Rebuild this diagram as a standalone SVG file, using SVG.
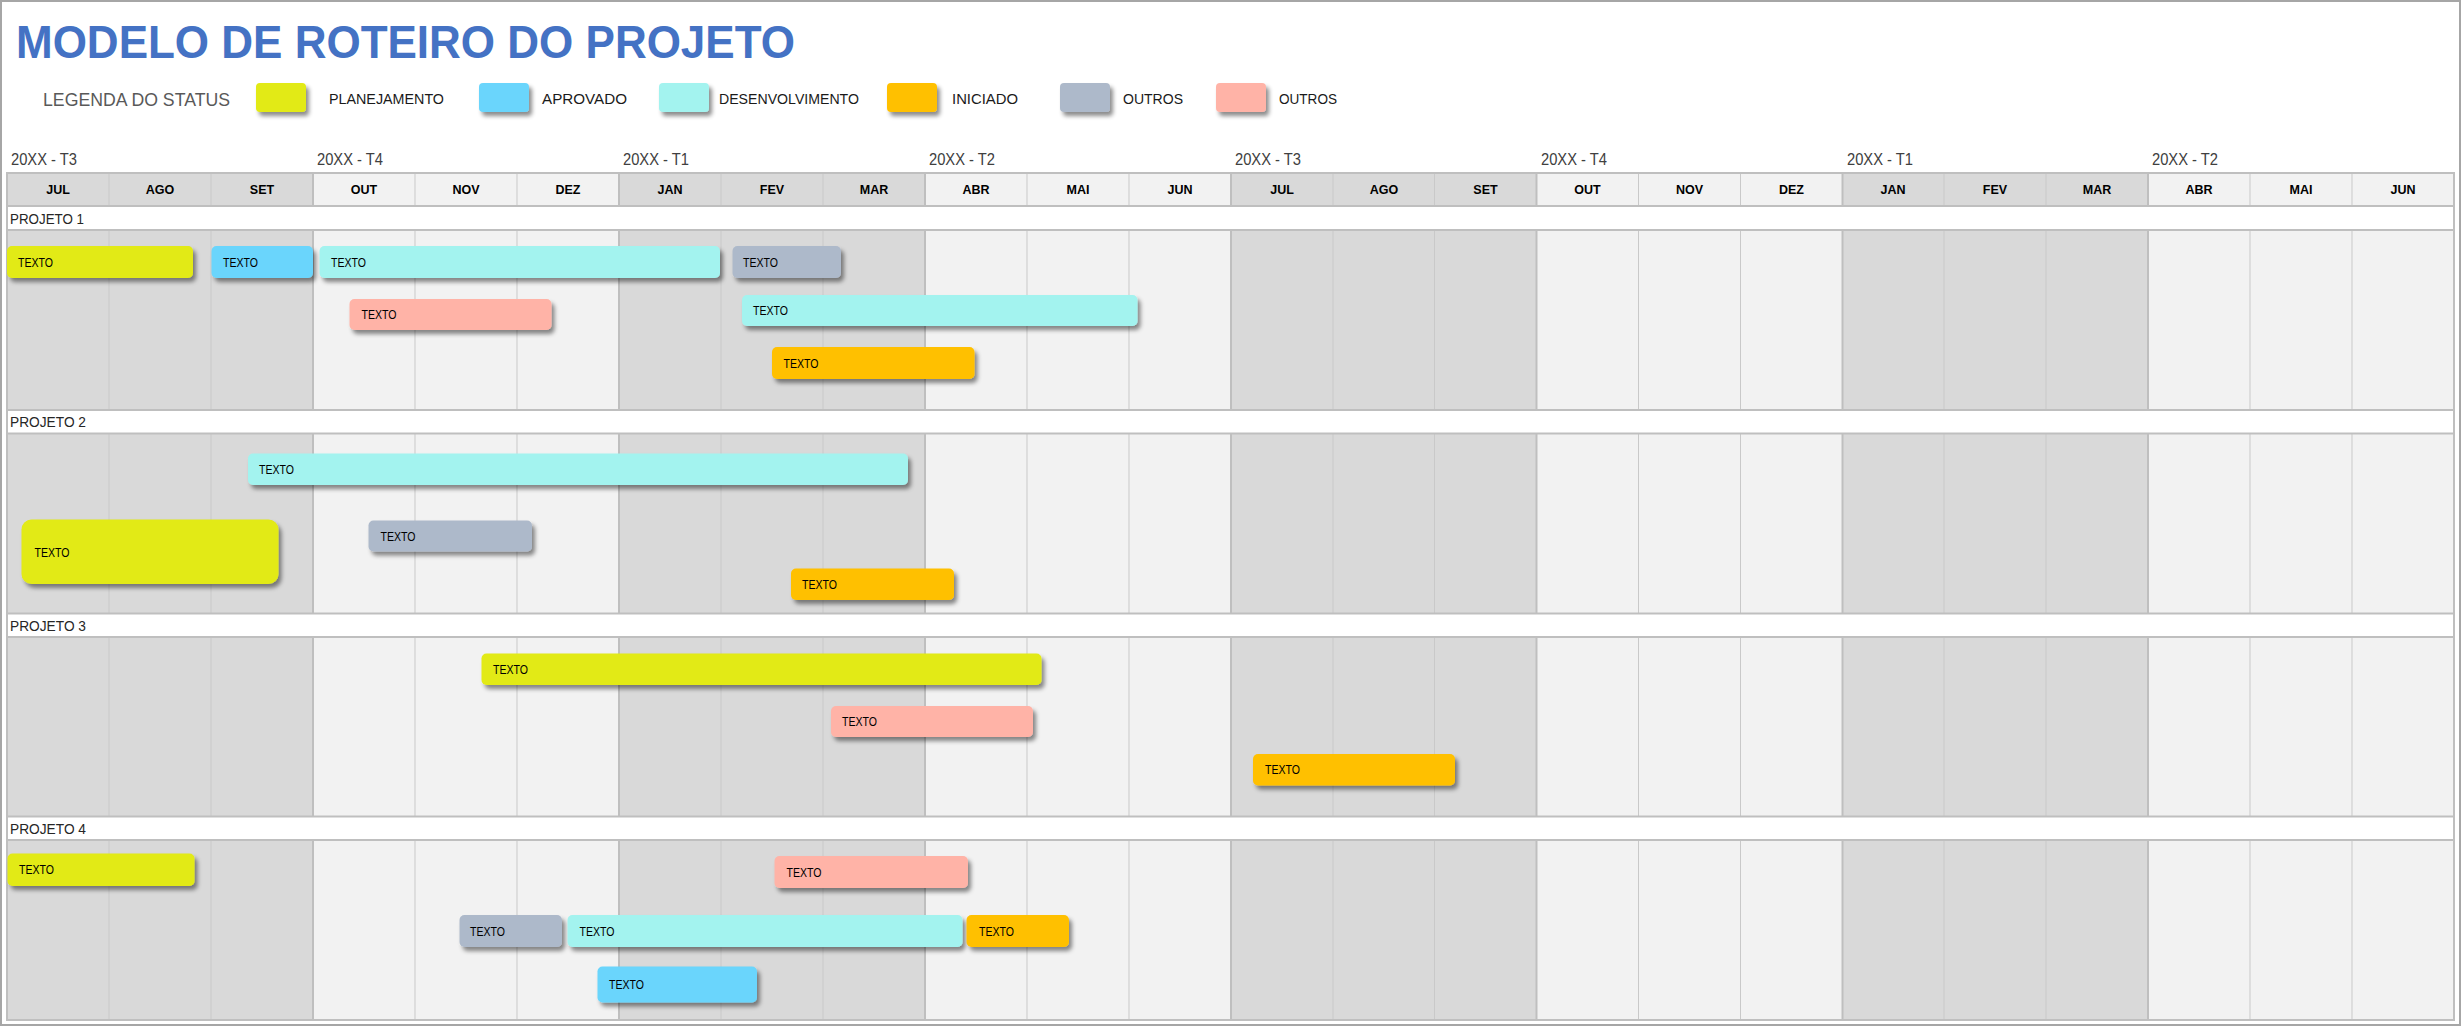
<svg xmlns="http://www.w3.org/2000/svg" width="2462" height="1027" viewBox="0 0 2462 1027">
<style>
.ttl{font-family:"Liberation Sans",Arial,sans-serif;font-weight:bold;font-size:47px;fill:#4472C4}
.leg{font-family:"Liberation Sans",Arial,sans-serif;font-size:18px;fill:#595959}
.lgt{font-family:"Liberation Sans",Arial,sans-serif;font-size:14px;fill:#1a1a1a}
.qtr{font-family:"Liberation Sans",Arial,sans-serif;font-size:17px;fill:#404040}
.mon{font-family:"Liberation Sans",Arial,sans-serif;font-size:12.5px;font-weight:bold;fill:#000;text-anchor:middle}
.prj{font-family:"Liberation Sans",Arial,sans-serif;font-size:15.5px;fill:#262626}
.bt{font-family:"Liberation Sans",Arial,sans-serif;font-size:13px;fill:#000}
.dk{fill:#D9D9D9}.lt{fill:#F2F2F2}
.thin{stroke:#C9C9C9;stroke-width:1;fill:none}
.qline{stroke:#BFBFBF;stroke-width:2;fill:none}
.hline{stroke:#BFBFBF;stroke-width:2;fill:none}
.y{fill:#E2EA13}.b{fill:#6AD5FC}.c{fill:#A3F3EF}.o{fill:#FFC000}.g{fill:#ADB9CA}.p{fill:#FFB3A7}
.bar{filter:url(#sh)}
</style>
<defs>
<filter id="sh" x="-10%" y="-30%" width="125%" height="180%">
<feDropShadow dx="3" dy="4" stdDeviation="2" flood-color="#000" flood-opacity="0.45"/>
</filter>
</defs>
<rect x="1" y="1" width="2459" height="1024" fill="#FFFFFF" stroke="#A6A6A6" stroke-width="2"/>
<text class="ttl" x="16" y="58" textLength="779" lengthAdjust="spacingAndGlyphs">MODELO DE ROTEIRO DO PROJETO</text>
<g id="legend">
<text class="leg" x="43" y="106" textLength="187" lengthAdjust="spacingAndGlyphs">LEGENDA DO STATUS</text>
<rect class="y bar" x="256" y="83" width="50" height="29" rx="4"/>
<text class="lgt" x="329" y="104" textLength="115" lengthAdjust="spacingAndGlyphs">PLANEJAMENTO</text>
<rect class="b bar" x="479" y="83" width="50" height="29" rx="4"/>
<text class="lgt" x="542" y="104" textLength="85" lengthAdjust="spacingAndGlyphs">APROVADO</text>
<rect class="c bar" x="659" y="83" width="50" height="29" rx="4"/>
<text class="lgt" x="719" y="104" textLength="140" lengthAdjust="spacingAndGlyphs">DESENVOLVIMENTO</text>
<rect class="o bar" x="887" y="83" width="50" height="29" rx="4"/>
<text class="lgt" x="952" y="104" textLength="66" lengthAdjust="spacingAndGlyphs">INICIADO</text>
<rect class="g bar" x="1060" y="83" width="50" height="29" rx="4"/>
<text class="lgt" x="1123" y="104" textLength="60" lengthAdjust="spacingAndGlyphs">OUTROS</text>
<rect class="p bar" x="1216" y="83" width="50" height="29" rx="4"/>
<text class="lgt" x="1279" y="104" textLength="58" lengthAdjust="spacingAndGlyphs">OUTROS</text>
</g>
<g id="quarters">
<text class="qtr" x="11" y="165" textLength="66" lengthAdjust="spacingAndGlyphs">20XX - T3</text>
<text class="qtr" x="317" y="165" textLength="66" lengthAdjust="spacingAndGlyphs">20XX - T4</text>
<text class="qtr" x="623" y="165" textLength="66" lengthAdjust="spacingAndGlyphs">20XX - T1</text>
<text class="qtr" x="929" y="165" textLength="66" lengthAdjust="spacingAndGlyphs">20XX - T2</text>
<text class="qtr" x="1235" y="165" textLength="66" lengthAdjust="spacingAndGlyphs">20XX - T3</text>
<text class="qtr" x="1541" y="165" textLength="66" lengthAdjust="spacingAndGlyphs">20XX - T4</text>
<text class="qtr" x="1847" y="165" textLength="66" lengthAdjust="spacingAndGlyphs">20XX - T1</text>
<text class="qtr" x="2152" y="165" textLength="66" lengthAdjust="spacingAndGlyphs">20XX - T2</text>
</g>
<g id="grid">
<rect class="dk" x="7" y="173" width="306" height="847"/>
<rect class="lt" x="313" y="173" width="306" height="847"/>
<rect class="dk" x="619" y="173" width="306" height="847"/>
<rect class="lt" x="925" y="173" width="306" height="847"/>
<rect class="dk" x="1231" y="173" width="305.5" height="847"/>
<rect class="lt" x="1536.5" y="173" width="306" height="847"/>
<rect class="dk" x="1842.5" y="173" width="305.5" height="847"/>
<rect class="lt" x="2148" y="173" width="306" height="847"/>
<path class="thin" d="M109 173V1020M211 173V1020M415 173V1020M517 173V1020M721 173V1020M823 173V1020M1027 173V1020M1129 173V1020M1333 173V1020M1434.5 173V1020M1638.5 173V1020M1740.5 173V1020M1944 173V1020M2046 173V1020M2250 173V1020M2352 173V1020"/>
<path class="qline" d="M313 173V1020M619 173V1020M925 173V1020M1231 173V1020M1536.5 173V1020M1842.5 173V1020M2148 173V1020"/>
<rect x="7" y="206" width="2447" height="24" fill="#FFFFFF"/>
<rect x="7" y="410" width="2447" height="23.5" fill="#FFFFFF"/>
<rect x="7" y="613.5" width="2447" height="23.5" fill="#FFFFFF"/>
<rect x="7" y="816.5" width="2447" height="23.5" fill="#FFFFFF"/>
<path class="hline" d="M7 173H2454M7 206H2454M7 230H2454M7 410H2454M7 433.5H2454M7 613.5H2454M7 637H2454M7 816.5H2454M7 840H2454M7 1020H2454"/>
<path class="hline" d="M7 172V1021M2454 172V1021"/>
</g>
<g id="months">
<text class="mon" x="58" y="194">JUL</text>
<text class="mon" x="160" y="194">AGO</text>
<text class="mon" x="262" y="194">SET</text>
<text class="mon" x="364" y="194">OUT</text>
<text class="mon" x="466" y="194">NOV</text>
<text class="mon" x="568" y="194">DEZ</text>
<text class="mon" x="670" y="194">JAN</text>
<text class="mon" x="772" y="194">FEV</text>
<text class="mon" x="874" y="194">MAR</text>
<text class="mon" x="976" y="194">ABR</text>
<text class="mon" x="1078" y="194">MAI</text>
<text class="mon" x="1180" y="194">JUN</text>
<text class="mon" x="1282" y="194">JUL</text>
<text class="mon" x="1384" y="194">AGO</text>
<text class="mon" x="1485.5" y="194">SET</text>
<text class="mon" x="1587.5" y="194">OUT</text>
<text class="mon" x="1689.5" y="194">NOV</text>
<text class="mon" x="1791.5" y="194">DEZ</text>
<text class="mon" x="1893" y="194">JAN</text>
<text class="mon" x="1995" y="194">FEV</text>
<text class="mon" x="2097" y="194">MAR</text>
<text class="mon" x="2199" y="194">ABR</text>
<text class="mon" x="2301" y="194">MAI</text>
<text class="mon" x="2403" y="194">JUN</text>
</g>
<g id="project-labels">
<text class="prj" x="10" y="224" textLength="74" lengthAdjust="spacingAndGlyphs">PROJETO 1</text>
<text class="prj" x="10" y="427" textLength="76" lengthAdjust="spacingAndGlyphs">PROJETO 2</text>
<text class="prj" x="10" y="631" textLength="76" lengthAdjust="spacingAndGlyphs">PROJETO 3</text>
<text class="prj" x="10" y="834" textLength="76" lengthAdjust="spacingAndGlyphs">PROJETO 4</text>
</g>
<g id="p1-bar1"><rect class="y bar" x="7" y="246" width="186" height="32" rx="5"/><text class="bt" x="18" y="266.5" textLength="35" lengthAdjust="spacingAndGlyphs">TEXTO</text></g>
<g id="p1-bar2"><rect class="b bar" x="211.5" y="246" width="101.5" height="32" rx="5"/><text class="bt" x="223" y="266.5" textLength="35" lengthAdjust="spacingAndGlyphs">TEXTO</text></g>
<g id="p1-bar3"><rect class="c bar" x="319.5" y="246" width="400.5" height="32" rx="5"/><text class="bt" x="331" y="266.5" textLength="35" lengthAdjust="spacingAndGlyphs">TEXTO</text></g>
<g id="p1-bar4"><rect class="g bar" x="732.5" y="246" width="108.5" height="32" rx="5"/><text class="bt" x="743" y="266.5" textLength="35" lengthAdjust="spacingAndGlyphs">TEXTO</text></g>
<g id="p1-bar5"><rect class="p bar" x="349.5" y="299" width="202" height="31" rx="5"/><text class="bt" x="361.5" y="319" textLength="35" lengthAdjust="spacingAndGlyphs">TEXTO</text></g>
<g id="p1-bar6"><rect class="c bar" x="742" y="295" width="395.5" height="31" rx="5"/><text class="bt" x="753" y="315" textLength="35" lengthAdjust="spacingAndGlyphs">TEXTO</text></g>
<g id="p1-bar7"><rect class="o bar" x="772" y="347" width="202.5" height="32" rx="5"/><text class="bt" x="783.5" y="367.5" textLength="35" lengthAdjust="spacingAndGlyphs">TEXTO</text></g>
<g id="p2-bar1"><rect class="c bar" x="248" y="453.5" width="660" height="31.5" rx="5"/><text class="bt" x="259" y="473.5" textLength="35" lengthAdjust="spacingAndGlyphs">TEXTO</text></g>
<g id="p2-bar2"><rect class="y bar" x="21.5" y="519.5" width="257" height="64.5" rx="10"/><text class="bt" x="34.5" y="557" textLength="35" lengthAdjust="spacingAndGlyphs">TEXTO</text></g>
<g id="p2-bar3"><rect class="g bar" x="368.5" y="520.5" width="163.5" height="31" rx="5"/><text class="bt" x="380.5" y="540.5" textLength="35" lengthAdjust="spacingAndGlyphs">TEXTO</text></g>
<g id="p2-bar4"><rect class="o bar" x="791" y="568.5" width="163" height="31.5" rx="5"/><text class="bt" x="802" y="588.5" textLength="35" lengthAdjust="spacingAndGlyphs">TEXTO</text></g>
<g id="p3-bar1"><rect class="y bar" x="481.5" y="653.5" width="560" height="31.5" rx="5"/><text class="bt" x="493" y="673.5" textLength="35" lengthAdjust="spacingAndGlyphs">TEXTO</text></g>
<g id="p3-bar2"><rect class="p bar" x="831" y="706" width="202" height="31" rx="5"/><text class="bt" x="842" y="726" textLength="35" lengthAdjust="spacingAndGlyphs">TEXTO</text></g>
<g id="p3-bar3"><rect class="o bar" x="1253" y="754" width="202" height="31.5" rx="5"/><text class="bt" x="1265" y="774" textLength="35" lengthAdjust="spacingAndGlyphs">TEXTO</text></g>
<g id="p4-bar1"><rect class="y bar" x="7.5" y="853.5" width="187" height="32.5" rx="5"/><text class="bt" x="19" y="874" textLength="35" lengthAdjust="spacingAndGlyphs">TEXTO</text></g>
<g id="p4-bar2"><rect class="p bar" x="774.5" y="856" width="193.5" height="32" rx="5"/><text class="bt" x="786.5" y="876.5" textLength="35" lengthAdjust="spacingAndGlyphs">TEXTO</text></g>
<g id="p4-bar3"><rect class="g bar" x="459.5" y="915" width="102.5" height="32" rx="5"/><text class="bt" x="470" y="935.5" textLength="35" lengthAdjust="spacingAndGlyphs">TEXTO</text></g>
<g id="p4-bar4"><rect class="c bar" x="567.5" y="915" width="395" height="32" rx="5"/><text class="bt" x="579.5" y="935.5" textLength="35" lengthAdjust="spacingAndGlyphs">TEXTO</text></g>
<g id="p4-bar5"><rect class="o bar" x="966.5" y="915" width="102.5" height="32" rx="5"/><text class="bt" x="979" y="935.5" textLength="35" lengthAdjust="spacingAndGlyphs">TEXTO</text></g>
<g id="p4-bar6"><rect class="b bar" x="597.5" y="966.5" width="159.5" height="36" rx="5"/><text class="bt" x="609" y="989" textLength="35" lengthAdjust="spacingAndGlyphs">TEXTO</text></g>
</svg>
